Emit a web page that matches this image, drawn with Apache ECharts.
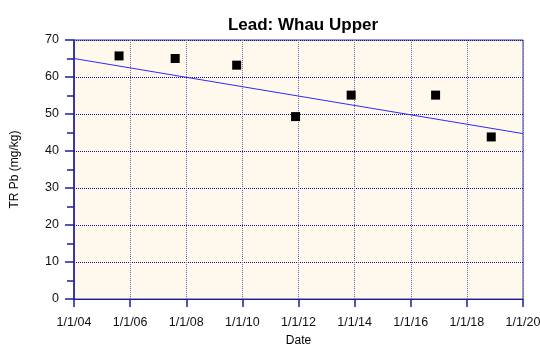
<!DOCTYPE html>
<html>
<head>
<meta charset="utf-8">
<script src="https://cdn.jsdelivr.net/npm/echarts@6/dist/echarts.min.js"></script>
<style>
  html, body { margin: 0; padding: 0; background: #ffffff; }
  #chart { width: 540px; height: 347px; }
</style>
</head>
<body>
<div id="chart"></div>
<script>
// Sampling dates and total recoverable lead concentrations (mg/kg)
const sampleDates = ['2005-08-10', '2007-08-10', '2009-10-19', '2011-11-24', '2013-11-17', '2016-11-20', '2018-11-14'];
const leadValues = [65.7, 65.0, 63.2, 49.3, 55.1, 55.1, 43.8];

// Linear trend, given at the ends of the date range
const trendYears = [2004, 2020];
const trendValues = [65.0, 44.7];

// Axis ranges
const yearMin = 2004;
const yearMax = 2020;
const yearStep = 2;
const valueMin = 0;
const valueMax = 70;
const valueStep = 10;

// Convert an ISO date string to a fractional year
function toYear(s) {
  const d = new Date(s + 'T00:00:00Z');
  const y = d.getUTCFullYear();
  const start = Date.UTC(y, 0, 1);
  const end = Date.UTC(y + 1, 0, 1);
  return y + (d.getTime() - start) / (end - start);
}

const points = sampleDates.map((s, i) => [toYear(s), leadValues[i]]);
const trend = trendYears.map((y, i) => [y, trendValues[i]]);

const font = '"Liberation Sans", Arial, sans-serif';
const axisBlue = '#1c1c9a';

const chart = echarts.init(document.getElementById('chart'), null, { renderer: 'canvas' });
chart.setOption({
  animation: false,
  backgroundColor: '#ffffff',
  title: {
    text: 'Lead: Whau Upper',
    left: 298,
    textAlign: 'center',
    top: 12,
    textStyle: { fontFamily: font, fontSize: 17, fontWeight: 'bold', color: '#000000' }
  },
  grid: {
    left: 74, right: 17, top: 40, bottom: 48,
    outerBoundsMode: 'none',
    containLabel: false,
    show: true,
    backgroundColor: '#fff9ed',
    borderColor: '#3a3aa8',
    borderWidth: 1
  },
  xAxis: {
    type: 'value',
    min: yearMin, max: yearMax, interval: yearStep,
    name: 'Date',
    nameLocation: 'middle',
    nameGap: 36,
    nameTextStyle: { fontFamily: font, fontSize: 12, color: '#000000' },
    axisLine: { show: true, onZero: false, lineStyle: { color: axisBlue, width: 1 } },
    axisTick: { show: true, length: 8, lineStyle: { color: axisBlue, width: 1.5 } },
    axisLabel: {
      margin: 17,
      fontFamily: font, fontSize: 12.5, color: '#111111',
      formatter: v => '1/1/' + String(Math.round(v) % 100).padStart(2, '0')
    },
    splitLine: { show: true, lineStyle: { type: [1, 1], color: '#6a6ab8', width: 1 } }
  },
  yAxis: {
    type: 'value',
    min: valueMin, max: valueMax, interval: valueStep,
    name: 'TR Pb (mg/kg)',
    nameLocation: 'middle',
    nameGap: 53,
    nameTextStyle: { fontFamily: font, fontSize: 12, color: '#000000' },
    axisLine: { show: true, lineStyle: { color: axisBlue, width: 1.5 } },
    axisTick: { show: true, length: 9, lineStyle: { color: axisBlue, width: 1.5 } },
    minorTick: { show: true, splitNumber: 2, length: 7, lineStyle: { color: axisBlue, width: 1.5 } },
    axisLabel: { margin: 15, fontFamily: font, fontSize: 12.5, color: '#111111' },
    splitLine: { show: true, lineStyle: { type: [1, 1], color: '#10108a', width: 1 } }
  },
  series: [
    {
      name: 'Trend',
      type: 'line',
      data: trend,
      symbol: 'none',
      lineStyle: { color: '#2a2aff', width: 1 },
      z: 2
    },
    {
      name: 'TR Pb',
      type: 'scatter',
      data: points,
      symbol: 'rect',
      symbolSize: 9,
      itemStyle: { color: '#000000', opacity: 1 },
      z: 3
    }
  ]
});
</script>
</body>
</html>
